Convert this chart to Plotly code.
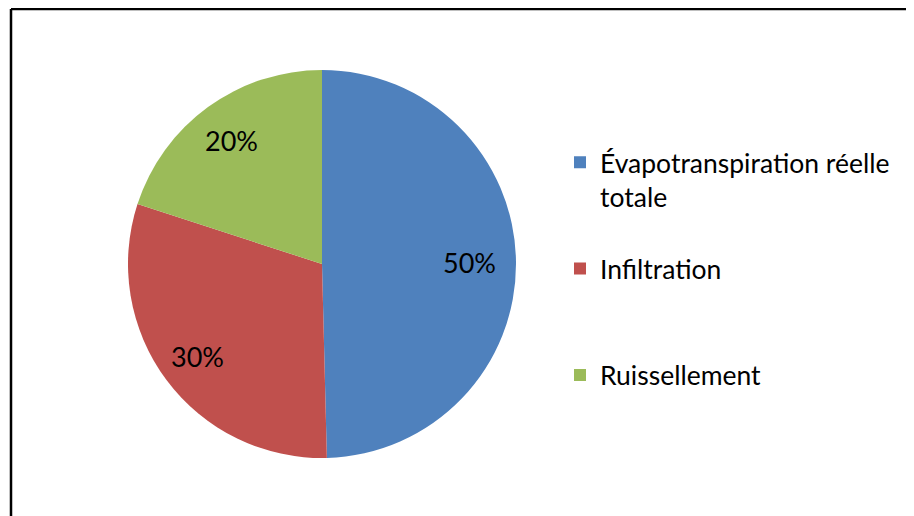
import math
import plotly.graph_objects as go

labels = ["Évapotranspiration réelle<br>totale<br> ", "Infiltration<br> <br> ", "Ruissellement"]
values = [49.6, 30.4, 20.0]
colors = ["#4F81BD", "#C0504D", "#9BBB59"]
label_radius = [0.76, 0.80, 0.79]  # relative radial position of the percentage labels

# page offset of the plot div (browser body margin)
OFF = 8
W, H = 914 - OFF, 516 - OFF
FONT = "Lato"

# pie geometry in figure pixels
CX, CY, R = 322 - OFF, 264 - OFF, 194

fig = go.Figure(go.Pie(
    labels=labels,
    values=values,
    sort=False,
    direction="clockwise",
    rotation=0,
    marker=dict(colors=colors, line=dict(width=0)),
    textinfo="none",
    domain=dict(x=[(CX - R) / W, (CX + R) / W], y=[1 - (CY + R) / H, 1 - (CY - R) / H]),
    hoverinfo="label+percent",
))

# percentage labels placed along each slice's mid-angle
total = sum(values)
cum = 0.0
annotations = []
for v, k in zip(values, label_radius):
    mid = (cum + v / 2) / total * 2 * math.pi
    cum += v
    px = CX + k * R * math.sin(mid)
    py = CY - k * R * math.cos(mid)
    annotations.append(dict(
        x=px / W, y=1 - py / H, xref="paper", yref="paper",
        text=f"{round(v / total * 100)}%", showarrow=False,
        xanchor="center", yanchor="middle",
        font=dict(family=FONT, size=27, color="black"),
    ))

FX0 = (11 - OFF) / W
FY1 = 1 - 1 / H
frame = dict(color="black", width=2.5)

fig.update_layout(
    width=W, height=H,
    margin=dict(l=0, r=0, t=0, b=0),
    paper_bgcolor="white",
    font=dict(family=FONT, size=26.5, color="black"),
    showlegend=True,
    legend=dict(x=(560 - OFF) / W, y=1 - (138.5 - OFF) / H, xanchor="left", yanchor="top",
                valign="top", bgcolor="rgba(0,0,0,0)", font=dict(family=FONT, size=26.5)),
    annotations=annotations,
    shapes=[
        dict(type="line", xref="paper", yref="paper", x0=FX0, x1=1.0, y0=FY1, y1=FY1, line=frame),
        dict(type="line", xref="paper", yref="paper", x0=FX0, x1=FX0, y0=0.0, y1=FY1, line=frame),
    ],
)

fig.write_html("out.html", config={"displayModeBar": False})
